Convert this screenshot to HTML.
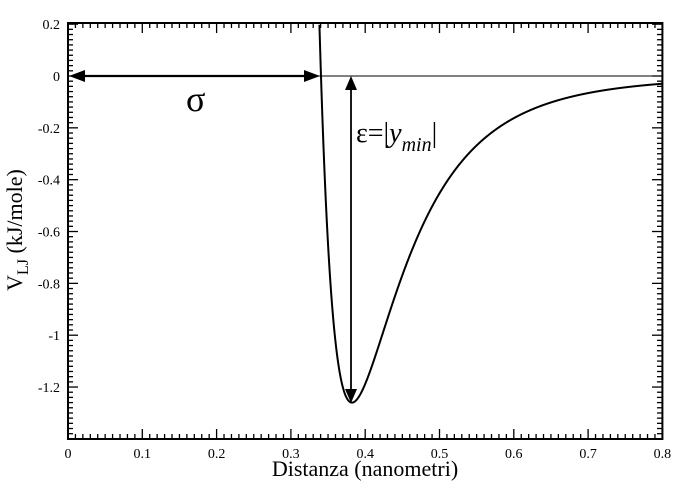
<!DOCTYPE html>
<html><head><style>body{margin:0;background:#fff}svg{display:block}</style></head>
<body>
<svg id="s" width="691" height="485" xmlns="http://www.w3.org/2000/svg" font-family="Liberation Serif, serif">
<rect x="68" y="23" width="594.4" height="416" fill="none" stroke="#000" stroke-width="2"/>
<g id="ticks" stroke="#000" stroke-width="1.3"></g>
<g font-size="14" fill="#000" id="lbl"></g>
<line x1="318" y1="76" x2="662" y2="76" stroke="#000" stroke-width="1"/>
<path id="curve" fill="none" stroke="#000" stroke-width="2"/>
<line x1="80" y1="76" x2="306" y2="76" stroke="#000" stroke-width="2.2"/>
<polygon points="69,76 85,70 85,82" fill="#000"/>
<polygon points="320,76 304,70 304,82" fill="#000"/>
<line x1="351" y1="88" x2="351" y2="390" stroke="#000" stroke-width="1.8"/>
<polygon points="351,76 345,90 357,90" fill="#000"/>
<polygon points="351,403 345,389 357,389" fill="#000"/>
<text x="186" y="111" font-size="36">σ</text>
<text x="356" y="142" font-size="28">ε=|<tspan font-style="italic">y</tspan><tspan font-style="italic" font-size="20" dy="9">min</tspan><tspan dy="-9">|</tspan></text>
<text x="365" y="476" font-size="22" text-anchor="middle">Distanza (nanometri)</text>
<text transform="translate(22,230) rotate(-90)" font-size="22" text-anchor="middle">V<tspan font-size="16" dy="6">LJ</tspan><tspan dy="-6"> (kJ/mole)</tspan></text>
</svg>
<script>
var X=function(v){return 68+v*743;},Y=function(v){return 76-v*259.2;};
var t='',l='';
for(var i=0;i<=80;i++){var x=X(i/100),L=(i%10==0)?10:5;
t+='<line x1="'+x+'" y1="439" x2="'+x+'" y2="'+(439-L)+'"/><line x1="'+x+'" y1="23" x2="'+x+'" y2="'+(23+L)+'"/>';
if(i%10==0)l+='<text x="'+x+'" y="458" text-anchor="middle">'+(i==0?'0':(i/100).toFixed(1))+'</text>';}
for(var j=-70;j<=10;j++){var v=j/50,y=Y(v),L=(j%10==0)?10:5;
t+='<line x1="68" y1="'+y+'" x2="'+(68+L)+'" y2="'+y+'"/><line x1="662" y1="'+y+'" x2="'+(662-L)+'" y2="'+y+'"/>';
if(j%10==0&&j>-70){var s=j==0?'0':(Math.round(v*10)/10).toString();l+='<text x="60" y="'+(y+5)+'" text-anchor="end">'+s+'</text>';}}
document.getElementById('ticks').innerHTML=t;document.getElementById('lbl').innerHTML=l;
var sg=0.3405,ep=1.26,pts=[];
for(var r=0.32;r<=0.8001;r+=0.0002){var q=Math.pow(sg/r,6),V=4*ep*(q*q-q);if(V>0.2)continue;pts.push(X(r).toFixed(2)+','+Y(V).toFixed(2));}
document.getElementById('curve').setAttribute('d','M'+pts.join('L'));
</script>
</body></html>
